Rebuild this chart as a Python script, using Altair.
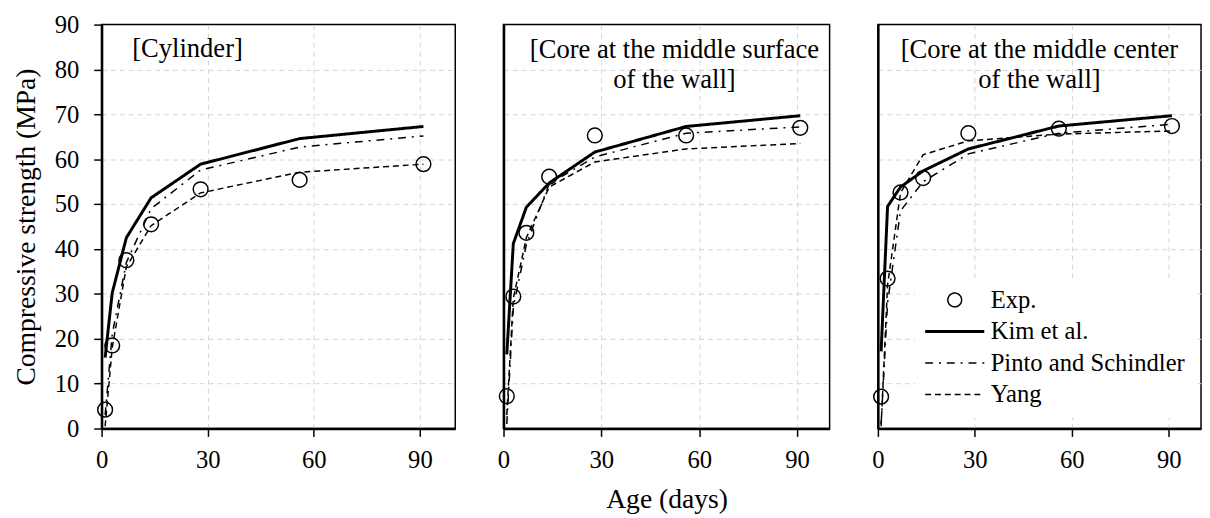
import altair as alt
import pandas as pd

FONT = "Liberation Serif"

days = [1, 3, 7, 14, 28, 56, 91]
series_names = ["Exp.", "Kim et al.", "Pinto and Schindler", "Yang"]
x_ticks = [0, 30, 60, 90]
y_ticks = [0, 10, 20, 30, 40, 50, 60, 70, 80, 90]

# [Cylinder]
cyl_exp = [4.2, 18.5, 37.5, 45.5, 53.3, 55.4, 58.9]
cyl_kim = [15.8, 30.2, 42.5, 51.4, 58.9, 64.6, 67.3]
cyl_pinto = [3.0, 21.0, 37.0, 49.0, 57.6, 62.7, 65.2]
cyl_yang = [0.5, 18.0, 36.0, 45.2, 52.5, 57.1, 58.9]

# [Core at the middle surface of the wall]
surf_exp = [7.2, 29.4, 43.6, 56.1, 65.3, 65.3, 67.0]
surf_kim = [16.5, 41.2, 49.3, 54.7, 61.6, 67.3, 69.7]
surf_pinto = [1.0, 27.0, 41.0, 54.5, 60.5, 65.8, 67.2]
surf_yang = [3.0, 29.0, 42.5, 53.8, 59.4, 62.3, 63.5]

# [Core at the middle center of the wall]
cent_exp = [7.1, 33.4, 52.6, 55.8, 65.8, 66.8, 67.4]
cent_kim = [17.2, 49.5, 53.8, 57.4, 62.3, 67.4, 69.7]
cent_pinto = [1.0, 28.0, 48.5, 55.0, 61.2, 65.8, 67.8]
cent_yang = [0.5, 32.0, 52.5, 61.0, 64.1, 65.6, 66.3]

CIRCLE = "M0.7,0A0.7,0.7 0 1,1 -0.7,0A0.7,0.7 0 1,1 0.7,0Z"
LINE = "M-3,0H3"

GRID_HIDE_Y = {"condition": {"test": "datum.value === 0 || datum.value === 90", "value": 0}, "value": 1}
GRID_HIDE_X = {"condition": {"test": "datum.value === 0", "value": 0}, "value": 1}


def scales():
    return (
        alt.Scale(domain=series_names, range=[CIRCLE, LINE, LINE, LINE]),
        alt.Scale(domain=series_names, range=[[1, 0], [1, 0], [8, 6, 2, 6], [6, 4]]),
        alt.Scale(type="ordinal", domain=series_names, range=[1.5, 3, 1.5, 1.5]),
    )


def panel(exp, kim, pinto, yang, title, width, first=False, xtitle=None, legend=False):
    pts = pd.DataFrame({"day": days, "val": exp, "series": ["Exp."] * len(days)})
    lines = pd.DataFrame({
        "day": days * 3,
        "val": kim + pinto + yang,
        "series": ["Kim et al."] * len(days) + ["Pinto and Schindler"] * len(days) + ["Yang"] * len(days),
    })
    shape_s, dash_s, width_s = scales()
    if legend:
        leg = alt.Legend(
            title=None, orient="none", legendX=38, legendY=257,
            symbolSize=400, symbolOffset=17.5, labelOffset=24, labelLimit=400,
            labelFont=FONT, labelFontSize=25, labelColor="black",
            rowPadding=6, padding=10, fillColor="white",
            symbolStrokeColor="black", symbolFillColor="transparent",
        )
    else:
        leg = None
    xaxis = alt.Axis(values=x_ticks, title=xtitle, labelFlush=False, tickSize=8,
                     labelPadding=12, titlePadding=13, grid=True, gridOpacity=GRID_HIDE_X)
    if first:
        yaxis = alt.Axis(values=y_ticks, title="Compressive strength (MPa)", tickSize=8,
                         labelPadding=15, titlePadding=14, grid=True, gridOpacity=GRID_HIDE_Y)
    else:
        yaxis = alt.Axis(values=y_ticks, title=None, labels=False, ticks=False, grid=True,
                         gridOpacity=GRID_HIDE_Y)
    x = alt.X("day:Q", scale=alt.Scale(domain=[0, 100], nice=False), axis=xaxis)
    y = alt.Y("val:Q", scale=alt.Scale(domain=[0, 90], nice=False), axis=yaxis)
    line_layer = alt.Chart(lines).mark_line(color="black").encode(
        x=x, y=y,
        strokeDash=alt.StrokeDash("series:N", scale=dash_s, legend=leg),
        strokeWidth=alt.StrokeWidth("series:N", scale=width_s, legend=leg),
    )
    pt_layer = alt.Chart(pts).mark_point(filled=False, color="black", opacity=1, size=459,
                                         strokeWidth=1.5).encode(
        x=x, y=y,
        shape=alt.Shape("series:N", scale=shape_s, legend=leg),
    )
    return alt.layer(line_layer, pt_layer).properties(width=width, height=410, title=title)


t1 = alt.TitleParams("[Cylinder]", anchor="start", frame="group", offset=-51, dx=31,
                     baseline="top", font=FONT, fontSize=27, fontWeight="normal", color="black")
t2 = alt.TitleParams(["[Core at the middle surface", "of the wall]"], anchor="middle", frame="group",
                     offset=-70, dx=8, baseline="top", lineHeight=30, font=FONT, fontSize=27,
                     fontWeight="normal", color="black")
t3 = alt.TitleParams(["[Core at the middle center", "of the wall]"], anchor="middle", frame="group",
                     offset=-70, dx=0, baseline="top", lineHeight=30, font=FONT, fontSize=27,
                     fontWeight="normal", color="black")

p1 = panel(cyl_exp, cyl_kim, cyl_pinto, cyl_yang, t1, 359, first=True)
p2 = panel(surf_exp, surf_kim, surf_pinto, surf_yang, t2, 331, xtitle="Age (days)")
p3 = panel(cent_exp, cent_kim, cent_pinto, cent_yang, t3, 328, legend=True)

chart = alt.hconcat(p1, p2, p3, spacing=40).resolve_scale(
    shape="independent", strokeDash="independent", strokeWidth="independent"
).resolve_legend(
    shape="independent", strokeDash="independent", strokeWidth="independent"
).properties(
    padding={"left": 4, "top": 0, "right": 0, "bottom": 0}
).configure_view(
    stroke="black", strokeWidth=1.5
).configure_axis(
    domainColor="black", domainWidth=2.5, tickColor="black", tickWidth=1.5,
    labelColor="black", titleColor="black", labelFont=FONT, titleFont=FONT,
    labelFontSize=25, titleFontSize=28, titleFontWeight="normal",
    gridColor="#d4d4d4", gridDash=[5, 4], gridWidth=1,
)

chart.save("out.html", embed_options={"renderer": "svg", "actions": False})
